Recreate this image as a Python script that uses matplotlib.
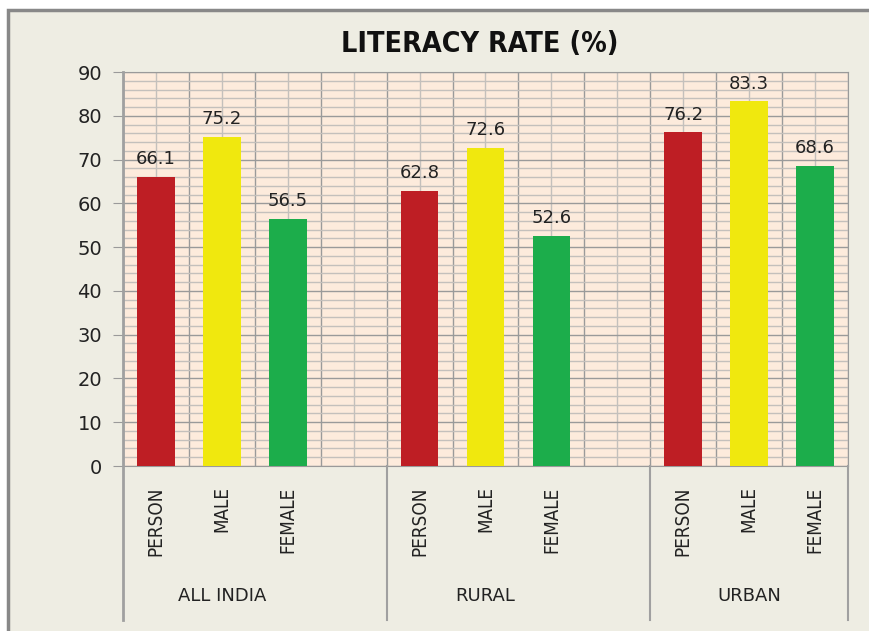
import matplotlib.pyplot as plt
from matplotlib.lines import Line2D
from matplotlib.patches import Rectangle

groups = ['ALL INDIA', 'RURAL', 'URBAN']
sexes = ['PERSON', 'MALE', 'FEMALE']
person = [66.1, 62.8, 76.2]
male = [75.2, 72.6, 83.3]
female = [56.5, 52.6, 68.6]

colors = ['#BE1E24', '#F0E80E', '#1CAD4B']
bg = '#EEEDE3'
grid_major = '#9A9A9A'
grid_minor = '#C4C0BC'

fig = plt.figure(figsize=(8.69, 6.31), dpi=100, facecolor='white')
# chart area (beige) with grey border on top/left only (right/bottom cut off)
fig.patches.append(Rectangle((8 / 869, -0.05), 1.1, 1.05 - 10 / 631, transform=fig.transFigure,
                             facecolor=bg, edgecolor='#888888', linewidth=2.5, zorder=-10))

ax = fig.add_axes([123 / 869, 1 - 466 / 631, (848 - 123) / 869, (466 - 72) / 631])
ax.set_facecolor('#FDEBDC')

# positions: 4 slots per group (last group has 3)
xs, heights, cols, labels = [], [], [], []
for g in range(len(groups)):
    vals = [person[g], male[g], female[g]]
    for k in range(3):
        xs.append(g * 4 + k)
        heights.append(vals[k])
        cols.append(colors[k])
        labels.append(sexes[k])

bars = ax.bar(xs, heights, width=0.57, color=cols, zorder=3)
for b, h in zip(bars, heights):
    ax.text(b.get_x() + b.get_width() / 2, h + 2.0, f'{h:.1f}', ha='center', va='bottom',
            fontsize=13, color='#222222', zorder=4)

ax.set_xlim(-0.5, 10.5)
ax.set_ylim(0, 90)
ax.set_yticks(range(0, 91, 10))
ax.set_yticks(range(0, 91, 2), minor=True)
ax.set_xticks([x + 0.5 for x in range(-1, 11)])
ax.set_xticks(range(0, 11), minor=True)
ax.set_xticklabels([])
ax.grid(True, which='major', color=grid_major, linewidth=1.0, zorder=1)
ax.grid(True, which='minor', color=grid_minor, linewidth=1.0, zorder=0.5)
ax.tick_params(axis='x', which='both', length=0)
ax.tick_params(axis='y', which='major', length=7, color=grid_major, labelsize=14,
               labelcolor='#222222', pad=8)
ax.tick_params(axis='y', which='minor', length=0)
for s in ['top', 'right']:
    ax.spines[s].set_color(grid_major)
ax.spines['bottom'].set_color(grid_major)
ax.spines['left'].set_visible(False)

# category labels (rotated)
tr = ax.get_xaxis_transform()
for x, lab in zip(xs, labels):
    ax.text(x, -0.052, lab, rotation=90, ha='center', va='top', fontsize=13.5,
            fontstretch='condensed', color='#222222', transform=tr)
for g, name in enumerate(groups):
    ax.text(g * 4 + 1, -0.33, name, ha='center', va='center', fontsize=13,
            color='#222222', transform=tr)

# left axis line and group separators extending below
for xsep in [-0.5, 3.5, 7.5, 10.5]:
    ax.add_line(Line2D([xsep, xsep], [1 if xsep == -0.5 else 0, -0.391], transform=tr,
                       color='#A0A0A0', linewidth=2 if xsep == -0.5 else 1.5,
                       clip_on=False, zorder=5))

fig.text(480 / 869, 1 - 44 / 631, 'LITERACY RATE (%)', ha='center', va='center',
         fontsize=20.5, fontweight='bold', fontstretch='condensed', color='#111111')

fig.savefig('out.png', dpi=100, facecolor=fig.get_facecolor())
